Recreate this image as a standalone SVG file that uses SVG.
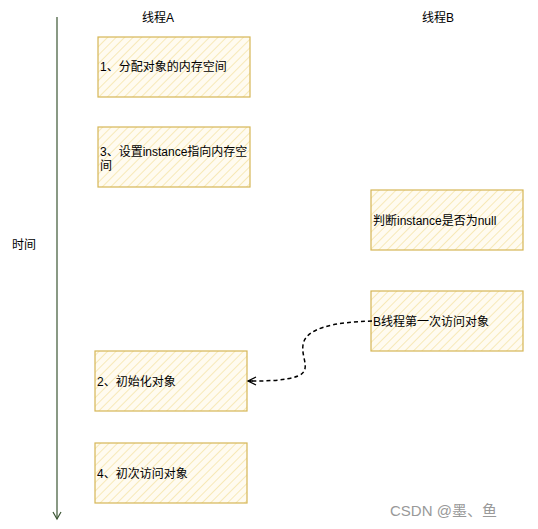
<svg xmlns="http://www.w3.org/2000/svg" width="538" height="529" viewBox="0 0 538 529">
<style>
.box{fill:url(#hatch);stroke:#d6b656;stroke-width:1.2}
.t{font-family:"Liberation Sans","Noto Sans CJK SC",sans-serif;font-size:12px;fill:#000}
.h{font-family:"Liberation Sans","Noto Sans CJK SC",sans-serif;font-size:12px;fill:#000}
</style>
<defs>
<pattern id="hatch" patternUnits="userSpaceOnUse" width="6" height="6" patternTransform="rotate(45)">
<rect width="6" height="6" fill="#fffbf0"/>
<line x1="0" y1="0" x2="0" y2="6" stroke="#f7e9b8" stroke-width="2"/>
</pattern>
<marker id="openv" markerWidth="10" markerHeight="10" refX="8" refY="5" orient="auto" markerUnits="userSpaceOnUse">
<path d="M1,1 L8,5 L1,9" fill="none" stroke="#3b5533" stroke-width="1.2"/>
</marker>
<marker id="openb" markerWidth="12" markerHeight="10" refX="10" refY="5" orient="auto" markerUnits="userSpaceOnUse">
<path d="M2,1 L10,5 L2,9 M10,5 L5,5" fill="none" stroke="#000" stroke-width="1.3"/>
</marker>
</defs>
<rect width="538" height="529" fill="#fff"/>
<g id="timeline">
<line x1="57" y1="17" x2="57" y2="519" stroke="#3b5533" stroke-width="1.2" marker-end="url(#openv)"/>
<text class="h" x="12" y="249">时间</text>
</g>
<text class="h" x="142" y="22">线程A</text>
<text class="h" x="422" y="22">线程B</text>
<g id="n1"><rect class="box" x="98" y="37" width="152" height="60"/><text class="t" x="100" y="71">1、分配对象的内存空间</text></g>
<g id="n3"><rect class="box" x="98" y="127" width="152" height="60"/><text class="t" x="100" y="156">3、设置instance指向内存空</text><text class="t" x="100" y="170">间</text></g>
<g id="nB1"><rect class="box" x="371" y="190" width="152" height="60"/><text class="t" x="373" y="225">判断instance是否为null</text></g>
<g id="nB2"><rect class="box" x="371" y="291" width="152" height="60"/><text class="t" x="373" y="326">B线程第一次访问对象</text></g>
<g id="n2"><rect class="box" x="95" y="351" width="152" height="60"/><text class="t" x="97" y="386">2、初始化对象</text></g>
<g id="n4"><rect class="box" x="95" y="443" width="152" height="60"/><text class="t" x="97" y="478">4、初次访问对象</text></g>
<g id="connectors">
<path d="M372,321 C335,322 305,328 303,345 C301,358 312,370 298,376 C285,381 265,381 248,381" fill="none" stroke="#000" stroke-width="1.5" stroke-dasharray="4 3" marker-end="url(#openb)"/>
</g>
<text x="390" y="516" font-family="'Liberation Sans','Noto Sans CJK SC',sans-serif" font-size="15" fill="#999">CSDN @墨、鱼</text>
</svg>
